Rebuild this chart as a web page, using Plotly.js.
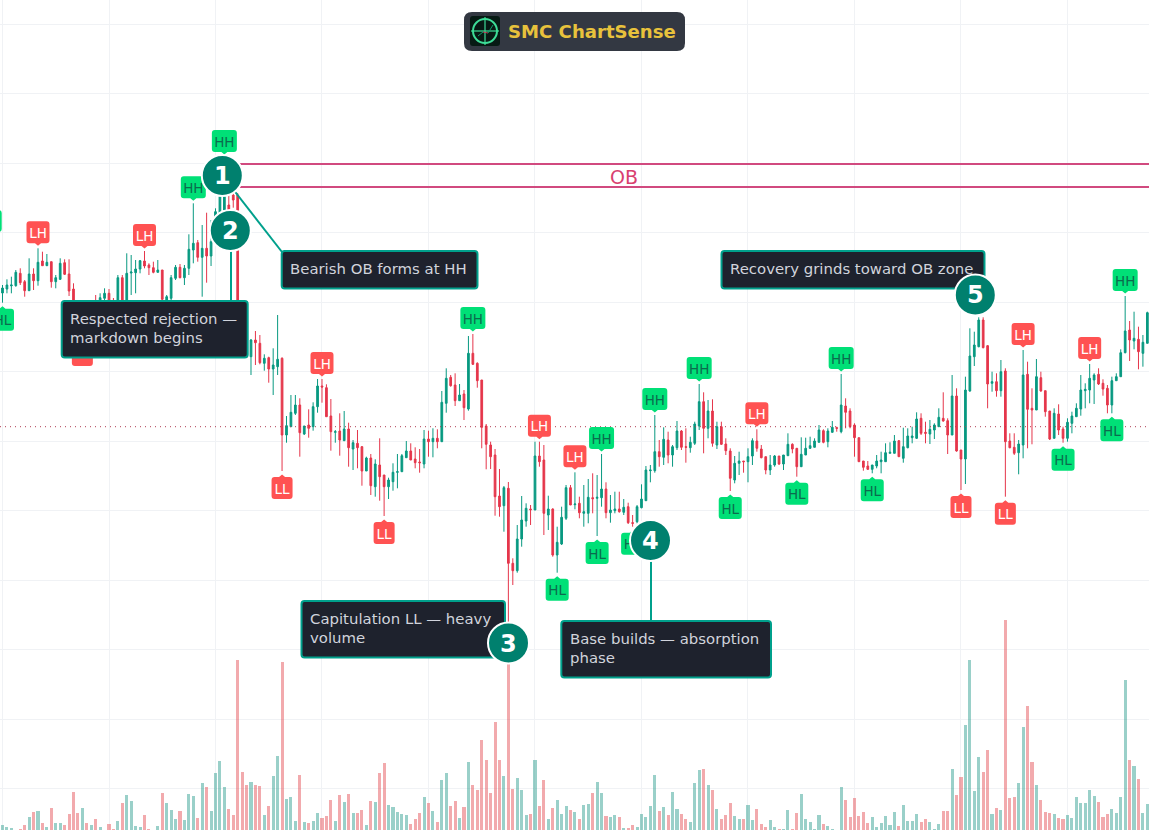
<!DOCTYPE html>
<html>
<head>
<meta charset="utf-8">
<title>SMC ChartSense</title>
<script src="https://cdn.plot.ly/plotly-3.0.1.min.js"></script>
<style>
	html, body { margin: 0; padding: 0; background: #fff; overflow: hidden; }
	#chart { width: 1149px; height: 830px; }
</style>
</head>
<body>
<div id="chart"></div>
<script>
"use strict";

const opens = [537,541,544.2,544.3,556.7,548.3,539.3,556,549.3,569,
	564.3,568.3,548.3,550.7,567.3,556,541,520,492,505,
	500,527,515,531.7,536.7,525,520,552.3,525,557,
	557.3,561,569,565,562.3,557.7,560,524,531.7,551.7,
	562.7,552.3,561.7,580,587.3,572.7,581.7,574,590,605,
	620,625,635,635,510,492,473.3,490,486.7,466.7,
	472.3,461,463.3,471.7,395,403.3,416.7,425,396,405,
	403.3,423.3,444,442.3,414,397.7,399,389.3,401,381,
	386.7,383.3,359,372,343.3,365,355,343.3,348.3,357.7,
	358.3,372.3,379,371,368,366,391,388.3,391.7,388.3,
	426.7,452.7,445,429.3,436,421,476.7,466.7,450,404,
	385,375,334,324.3,341.7,266.7,259.3,291,309,321,
	320,374,370,315,321,275,286,311.7,342.3,325.3,
	326.7,316.7,316.7,332.3,331.7,332.3,341,317.3,319.3,321,
	317.7,323.3,307.3,308.3,322.3,329.3,359.3,359.3,378.3,372.7,
	390,375,382.3,399,383.3,382.3,386.7,404,428.3,401.7,
	419,385,403.3,386,379,350,366.7,369,368.3,374,
	389,381,373.3,360,365,374,366,374.3,385.7,381.7,
	363.3,375,381.7,382.7,387.7,399.3,388.3,397.7,402.3,398.3,
	424,419,405,392.3,369,364,360.7,364,368.3,368.3,
	376.7,376.7,389.3,371.7,382.3,392.3,391.7,411.7,397.7,396,
	400,403.3,411.7,409.3,395,434,380,371,439,473.3,
	483.3,510,484.3,446.7,448.3,439.3,459,389,382.7,377.3,
	385,455.7,421.7,420,452.3,439.3,419,391.7,416,401,
	391.7,406.7,413.3,421,439.3,440,450,455.7,446.7,441.7,
	425,449.3,453.3,477.3,500,489,490.7,476.7,486.7];

const closes = [542,545,545,557.7,547.3,539.3,556,549.3,567.7,564.3,
	567.7,548.3,552.3,566.7,555.7,539,520,505,505,500,
	516,515,532.3,536.7,525,520,552.3,525,556.7,558,
	561,569.3,564,562.3,557.7,560,530.7,533.3,552.3,562.7,
	552.3,561.7,580.7,586.7,572.7,581.7,574,588.3,618.3,645,
	645,600,630,510,492,473,490,487.3,467.3,471.7,
	461,465,470.7,395,404.3,417.7,425,397.3,404,401.7,
	423.3,444,443,413.3,398.3,398.3,390,401,382.3,387.3,
	382.3,359,372,344.3,366,353.3,343.3,350,357.7,358.3,
	374.3,379,370,367.3,367.3,391,388.3,391.7,388.3,427.7,
	451.7,444.3,429.3,435,422.3,476.7,465.7,449.3,402.7,385.7,
	373.3,333.3,323.3,342.3,266.7,259.3,291,310,321.7,320.3,
	374,368.3,316.7,321,275,287.7,312.7,342.3,325,326,
	317.3,318.3,332.7,331.3,332.7,341,317.3,320,321,318.3,
	322.7,307.3,306.7,323.3,331,360,360,378.3,373.3,390.7,
	375,383.3,399,382.7,382.7,387.7,406,428.3,401.7,419,
	386.7,403.3,385.7,379.3,351.7,366.7,369,368.3,373.3,389.3,
	381.7,372.3,360,365,374,366,375,385.7,381,363.3,
	375.7,381.7,384.3,389,400,387.7,399,402.7,401.7,425,
	417.7,403.3,392.3,368.3,362.7,360.7,365,369,370,377.3,
	377.7,389,373.3,383.3,394,394,411,396.7,396.7,400.7,
	405,412.7,409,395,434,379,371,440,474,485,
	510,482.3,446,448.3,439.3,458.3,388.3,382.3,376.7,386,
	455,420.7,420,453.3,439,418.3,391,416.7,400,391.7,
	407.7,414,421.7,440,440.7,451.7,455,446,441,425,
	449.3,453.3,477.3,499,490,491.7,478.3,487.7,517.3];

const highs = [545,550.7,553.3,560,561.7,550,571.7,561.7,581.7,578.3,
	576,568.3,555,571.7,570.7,570.7,546.7,525,510,512,
	520,535,536.7,541.7,541,532,555,555,576.7,575,
	570,570,579,566.7,568.3,570,560,535,555,565,
	566,565,595.7,626.7,590,605,617.3,610,621.7,655,
	673,635,638.3,637,515,496,491,499,495,475.7,
	473.3,481.7,515,472.7,414,435,435,431.7,404,420.7,
	427.7,451,451,445.7,431,400,416.7,419,407.3,390,
	400,384,373.3,376,370.7,391.7,355,352.3,366.7,376,
	376,389,386.7,382.7,381,400,399.3,401.7,400.7,439,
	461.7,455,456.7,446,440,494,496,467.7,450,406,
	388.3,381,361,344,348,271.7,305,334,326.7,325,
	388.3,388.3,385,334.3,321.7,303.3,323.3,345,345,357.7,
	333.3,345,351,356.7,355,376,347.7,335,338.3,338.3,
	331,327.3,315,325,345.7,364,365,415,390,402.7,
	398.3,385,409,400,401.7,393.3,408.3,446,437.7,430,
	430.7,408.3,408.3,391.7,381.7,374,378.3,369,381.7,391.7,
	400.7,385,373.3,375,375,374,375,396.7,386.7,381.7,
	392.7,392.3,393.3,391.7,405,400.7,401.7,409,403.3,456,
	431.7,421.7,406.7,392.3,369,369,365,375,378.3,386.7,
	387.7,395,390,402.3,401.7,403.3,417.7,416.7,408.3,410,
	406.7,421.7,437.7,411.7,455,441.7,380,453.3,501.7,498.3,
	512.7,512.7,485,458.3,456.7,470,461.7,396.7,396.7,390,
	480,468.3,441.7,471,458.3,439.3,419,421.7,425.7,403.3,
	411.7,418.3,426.7,455,446.7,466,456.7,461.7,450.7,445,
	453.3,456.7,480.7,534,509,518.3,503.3,495,518.3];

const lows = [527.3,536.7,536.7,543.3,545,533.3,539.3,540,544.3,564.3,
	564.3,542.3,541.7,550,555,534,513.3,495,492,495,
	497,508,510,528,520,515,515,520,520,535,
	536.7,556.7,561.7,555,556.7,557.3,528,520,525,550,
	551.7,545,555,566.7,568.3,533.3,547.3,564,585,600,
	612,590,622.3,505,490,473,455,465,465.7,459.3,
	447.3,435,455,359,387.3,403.3,415,373.3,395,392.3,
	399.3,417.3,427.3,413.3,379.3,387.3,374.3,389.3,363.3,360,
	361.7,344.3,359,335,333.3,329.3,314,331,339.3,341.7,
	358.3,372.3,370,361.7,357.3,361.7,373.3,372.7,381.7,388.3,
	417.3,443.3,424,429.3,410,419.3,465,442.3,381.7,360.7,
	361,314.3,313.3,298.3,205,245,257.3,283.3,303.3,305,
	320,363.3,295,300,273.3,257.3,285,310,325,320.7,
	311.7,303.3,306.7,316.7,294,323.3,311.7,307.3,316.7,317.3,
	315,306,303.3,306.7,321.7,329.3,347.7,357.3,363.3,365,
	366.7,363.3,380,380,367.3,377.3,385,400,376.7,391.7,
	383.3,381,385,375,339,346.7,355,357.3,347.7,365,
	378.3,371.7,355.7,355,363.3,365,360,374.3,376.7,353.3,
	363.3,375,381,382.7,387.7,386.7,382.7,397.3,398.3,396.7,
	401.7,401.7,373.3,368.3,359.3,360,356.7,361.7,356.7,368.3,
	376.7,376.7,373.3,367.3,381.7,386.7,391,395,386.7,386,
	391,403.3,408.3,376,395,378.3,340,346,438.3,464,
	482.7,481.7,421.7,438.3,433.3,433.3,333.3,381.7,375,355.7,
	371.7,381.7,385.7,420,438.3,413.3,390,391.7,395,387.3,
	388.3,396.7,413.3,414.3,421.7,426.7,426,445,434.3,416.7,
	416.7,449.3,453.3,476.7,469,480.7,460.7,463.3,486.7];

const volumes = [5,3,2,0.5,1,5,13,18,19,7,
	3,22,7,7,5,16,38,17,22,7,
	5,11,3,0.5,6,1,9,27,35,29,
	4,3,15,1,0.5,4,37,27,20,11,
	19,10,36,34,12,47,43,19,57,69,
	43,21,15,170,58,45,48,45,44,15,
	24,54,74,168,31,33,9,55,8,7,
	9,17,12,14,30,9,35,28,36,17,
	17,20,5,29,28,57,67,25,23,18,
	16,15,6,11,17,33,27,19,8,50,
	57,24,29,12,23,68,45,40,90,70,
	37,108,70,54,167,41,52,40,15,16,
	70,24,50,11,22,30,16,24,20,18,
	11,25,26,37,48,37,14,13,15,13,
	2,2,5,3,16,13,24,55,19,23,
	15,38,21,16,11,8,47,60,61,45,
	40,21,11,15,27,14,11,11,25,10,
	21,6,3,10,3,1,1,20,1,17,
	36,11,8,1,15,6,4,1,0.3,43,
	30,13,32,14,18,7,13,3,7,14,
	5,18,4,25,9,9,16,8,11,8,
	1,6,19,19,61,35,53,105,170,39,
	73,58,80,16,22,20,210,32,33,47,
	103,124,68,45,30,18,17,16,12,11,
	15,12,33,27,27,40,34,28,13,16,
	21,17,33,150,70,64,51,17,26];

// swing tags: candle index and type, the tag sits on that candle's high or low
const tagIndex = [0,8,18,32,43,50,63,72,86,106,114,121,125,129,134,135,142,147,157,164,170,179,189,196,216,226,230,239,245,250,253];
const tagKind = ["HL","LH","LL","LH","HH","HH","LL","LH","LL","HH","LL","LH","HL","LH","HL","HH","HL","HH","HH","HL","LH","HL","HH","HL","LL","LL","LH","HL","LH","HL","HH"];
// this one is nearly all behind the first note, its text does not show
const coveredTagIndex = 18;
// one more tag just off the left edge, only its side shows
const edgeTagIndex = -3;
const edgeTagHigh = 593;

const lastPrice = 403.3;
const obTop = 666;
const obBottom = 643;
const obStart = 50;

const W = 1149;
const H = 830;
const BAR_PX = 4.4375;
const UP = "#089981";
const DOWN = "#e5364b";
const TEAL = "#00a08c";
const GRID = "#f0f2f5";
const FONT = "DejaVu Sans";

function fx(px) { return px / W; }
function fy(py) { return 1 - py / H; }

// rounded rectangle in page pixels, on paper coordinates
function roundBox(x0, y0, x1, y1, r, fill, lineColor, lineWidth) {
	const p = (x, y) => fx(x).toFixed(5) + "," + fy(y).toFixed(5);
	const path = "M" + p(x0 + r, y0) + " L" + p(x1 - r, y0) + " Q" + p(x1, y0) + " " + p(x1, y0 + r) +
		" L" + p(x1, y1 - r) + " Q" + p(x1, y1) + " " + p(x1 - r, y1) +
		" L" + p(x0 + r, y1) + " Q" + p(x0, y1) + " " + p(x0, y1 - r) +
		" L" + p(x0, y0 + r) + " Q" + p(x0, y0) + " " + p(x0 + r, y0) + " Z";
	return {
		type: "path", path, xref: "paper", yref: "paper", layer: "above",
		fillcolor: fill,
		line: { color: lineColor || fill, width: lineWidth || 0 },
	};
}

function pageLine(x0, y0, x1, y1, color, width) {
	return {
		type: "line", xref: "paper", yref: "paper", layer: "above",
		x0: fx(x0), y0: fy(y0), x1: fx(x1), y1: fy(y1),
		line: { color, width },
	};
}

function pageCircle(cx, cy, r, fill, lineColor, lineWidth) {
	return {
		type: "circle", xref: "paper", yref: "paper", layer: "above",
		x0: fx(cx - r), y0: fy(cy - r), x1: fx(cx + r), y1: fy(cy + r),
		fillcolor: fill,
		line: { color: lineColor, width: lineWidth },
	};
}

// tag anchored on a price, sizes in pixels so it keeps its shape.
// the text goes in a rect on data units because shape labels ignore the pixel anchor
function tagShapes(index, kind, price, showText) {
	const above = kind === "HH" || kind === "LH";
	const bull = kind === "HH" || kind === "HL";
	const w = kind === "HH" ? 25 : kind === "LL" ? 21 : 23;
	const h = 22, r = 3;
	const l = -w / 2, R = w / 2;
	const a = above ? 5 : -28;
	const b = a + h;
	let path = `M${l + r},${a} `;
	if (above) path += `L-3,${a} L0,${a - 2.5} L3,${a} `;
	path += `L${R - r},${a} Q${R},${a} ${R},${a + r} L${R},${b - r} Q${R},${b} ${R - r},${b} `;
	if (!above) path += `L3,${b} L0,${b + 2.5} L-3,${b} `;
	path += `L${l + r},${b} Q${l},${b} ${l},${b - r} L${l},${a + r} Q${l},${a} ${l + r},${a} Z`;
	const out = [{
		xref: "x", yref: "y2", layer: "above",
		xsizemode: "pixel", ysizemode: "pixel",
		xanchor: index, yanchor: price,
		type: "path", path,
		fillcolor: bull ? "#00e077" : "#ff5252",
		line: { width: 0 },
	}];
	if (showText) {
		out.push({
			xref: "x", yref: "y2", layer: "above",
			type: "rect",
			x0: index + l / BAR_PX, x1: index + R / BAR_PX,
			y0: price + a, y1: price + b,
			fillcolor: "rgba(0,0,0,0)",
			line: { width: 0 },
			label: {
				text: kind,
				textposition: "middle center",
				padding: 0,
				font: { family: FONT, size: 13.5, color: bull ? "#0b6b4e" : "#ffffff" },
			},
		});
	}
	return out;
}

function calloutText(x, y, text) {
	return {
		xref: "paper", yref: "paper", x: fx(x), y: fy(y),
		xanchor: "left", yanchor: "middle", align: "left",
		showarrow: false, text,
		font: { family: FONT, size: 14.9, color: "#d1d4dc" },
	};
}

function digit(cx, cy, text) {
	return {
		xref: "paper", yref: "paper", x: fx(cx), y: fy(cy),
		xanchor: "center", yanchor: "middle",
		showarrow: false, text: "<b>" + text + "</b>",
		font: { family: FONT, size: 24, color: "#ffffff" },
	};
}

const xs = opens.map((_, i) => i);

const volumeTrace = {
	type: "bar",
	x: xs,
	y: volumes,
	width: 0.7,
	marker: {
		color: xs.map(i => closes[i] >= opens[i] ? "rgba(30,150,135,0.45)" : "rgba(228,75,80,0.47)"),
		line: { width: 0 },
	},
	hoverinfo: "skip",
	showlegend: false,
};

const candleTrace = {
	type: "candlestick",
	x: xs,
	open: opens,
	high: highs,
	low: lows,
	close: closes,
	yaxis: "y2",
	whiskerwidth: 0,
	increasing: { line: { color: UP, width: 1 }, fillcolor: UP },
	decreasing: { line: { color: DOWN, width: 1 }, fillcolor: DOWN },
	hoverinfo: "skip",
	showlegend: false,
};

const shapes = [];

shapes.push({
	type: "line", xref: "paper", yref: "y2", layer: "above",
	x0: 0, x1: 1, y0: lastPrice, y1: lastPrice,
	line: { color: "#b03a50", width: 1, dash: "1px,4px" },
});
shapes.push({
	type: "rect", xref: "x", yref: "y2", layer: "above",
	x0: obStart, x1: 300, y0: obBottom, y1: obTop,
	fillcolor: "rgba(0,0,0,0)",
	line: { color: "#d14a7f", width: 2 },
});

tagIndex.forEach((index, n) => {
	const kind = tagKind[n];
	const price = kind === "HH" || kind === "LH" ? highs[index] : lows[index];
	shapes.push(...tagShapes(index, kind, price, index !== coveredTagIndex));
});
shapes.push(...tagShapes(edgeTagIndex, "HH", edgeTagHigh, false));

// leaders from the numbered markers down to their notes
shapes.push(pageLine(222, 175, 282, 252, TEAL, 2));
shapes.push(pageLine(231, 230, 231, 301, TEAL, 2));
shapes.push(pageLine(651, 540, 651, 621, TEAL, 2));

const boxFill = "#1e222d";
shapes.push(roundBox(61.7, 301, 247.7, 357.5, 3, boxFill, TEAL, 2));
shapes.push(roundBox(281.7, 251, 477.5, 288.5, 3, boxFill, TEAL, 2));
shapes.push(roundBox(721.5, 251, 984.5, 288.5, 3, boxFill, TEAL, 2));
shapes.push(roundBox(301.5, 601, 505, 657.5, 3, boxFill, TEAL, 2));
shapes.push(roundBox(561.3, 621, 771, 677.5, 3, boxFill, TEAL, 2));

[[222.3, 175.5], [230.3, 230.5], [508.5, 643], [650.5, 540.5], [975.3, 295]].forEach(c => {
	shapes.push(pageCircle(c[0], c[1], 20.5, "#00806e", "#ffffff", 2));
});

// header badge and its little radar logo
shapes.push(roundBox(464, 12, 685, 51, 8, "#333842"));
shapes.push(roundBox(470, 16, 500, 46, 3, "#071a14"));
shapes.push(pageCircle(485, 31, 12, "rgba(0,0,0,0)", "#3ddc97", 2));
shapes.push(pageLine(471, 31, 499, 31, "#3ddc97", 1.2));
shapes.push(pageLine(485, 17, 485, 45, "#3ddc97", 1.2));
shapes.push(pageLine(478, 36, 483, 32, "#0f9d6b", 1));
shapes.push(pageLine(483, 32, 488, 33, "#c2405a", 1));
shapes.push(pageLine(488, 33, 493, 25, "#0f9d6b", 1));

const annotations = [
	calloutText(68, 328, "Respected rejection —<br>markdown begins"),
	calloutText(288, 269, "Bearish OB forms at HH"),
	calloutText(728, 269, "Recovery grinds toward OB zone"),
	calloutText(308, 628, "Capitulation LL — heavy<br>volume"),
	calloutText(568, 648, "Base builds — absorption<br>phase"),
	digit(222.3, 176, "1"),
	digit(230.3, 231, "2"),
	digit(508.5, 643.5, "3"),
	digit(650.5, 541, "4"),
	digit(975.3, 295.5, "5"),
	{
		xref: "paper", yref: "paper", x: fx(624), y: fy(177),
		xanchor: "center", yanchor: "middle", showarrow: false,
		text: "OB",
		font: { family: FONT, size: 19, color: "#d9406f" },
	},
	{
		xref: "paper", yref: "paper", x: fx(505.5), y: fy(31.5),
		xanchor: "left", yanchor: "middle", showarrow: false,
		text: "<b>SMC ChartSense</b>",
		font: { family: FONT, size: 18.1, color: "#e8c23c" },
	},
];

const layout = {
	width: W,
	height: H,
	margin: { l: 0, r: 0, t: 0, b: 0, pad: 0 },
	paper_bgcolor: "#ffffff",
	plot_bgcolor: "#ffffff",
	showlegend: false,
	bargap: 0,
	boxgap: 0.45,
	xaxis: {
		range: [-0.563, 258.37],
		tick0: 0,
		dtick: 24,
		showgrid: true,
		gridcolor: GRID,
		gridwidth: 1,
		zeroline: false,
		showticklabels: false,
		ticks: "",
		rangeslider: { visible: false },
	},
	yaxis: {
		range: [0, H],
		tick0: 41.2,
		dtick: 69.5,
		showgrid: true,
		gridcolor: GRID,
		gridwidth: 1,
		zeroline: false,
		showticklabels: false,
		ticks: "",
	},
	yaxis2: {
		range: [0, H],
		overlaying: "y",
		showgrid: false,
		zeroline: false,
		showticklabels: false,
		ticks: "",
	},
	shapes,
	annotations,
};

Plotly.newPlot("chart", [volumeTrace, candleTrace], layout, { displayModeBar: false, responsive: false });
</script>
</body>
</html>
